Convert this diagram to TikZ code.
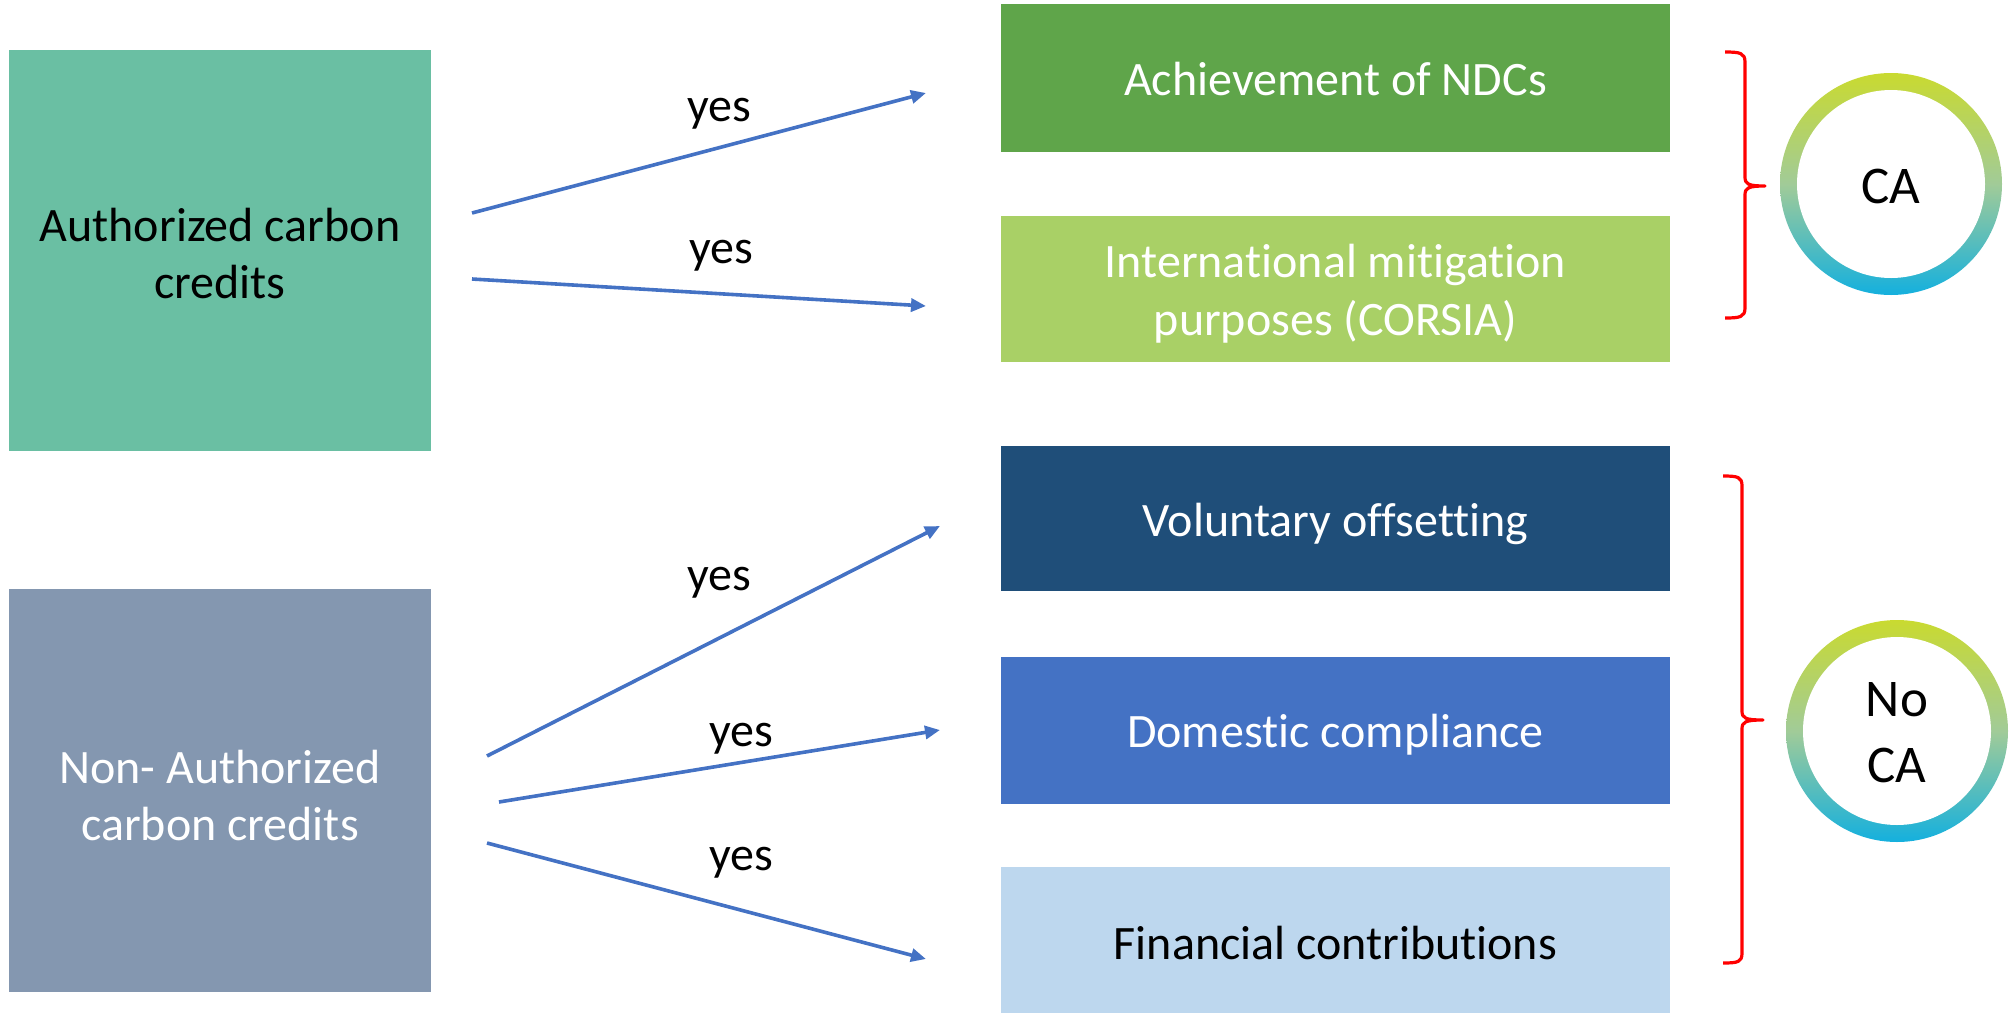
\documentclass[tikz,border=0pt]{standalone}
\usepackage{fontspec}
\setmainfont{Carlito}[Ligatures={NoCommon}]
\usetikzlibrary{arrows.meta}
\definecolor{authgreen}{HTML}{6ABFA3}
\definecolor{nonauth}{HTML}{8497B0}
\definecolor{ndcgreen}{HTML}{5FA54A}
\definecolor{intlgreen}{HTML}{A9D066}
\definecolor{voldark}{HTML}{1F4E79}
\definecolor{domblue}{HTML}{4472C4}
\definecolor{finlight}{HTML}{BDD7EE}
\definecolor{arrowblue}{HTML}{4472C4}
\definecolor{bracered}{HTML}{FF0000}
\definecolor{ringtop}{HTML}{C9DA30}
\definecolor{ringmid}{HTML}{A1CB98}
\definecolor{ringbot}{HTML}{14B0DE}
\tikzset{
  leftbox/.style={rectangle, inner sep=0pt, minimum width=211pt},
  rightbox/.style={rectangle, inner sep=0pt, minimum width=334.5pt},
  lefttext/.style={inner sep=0pt, align=center, font=\fontsize{24pt}{28.5pt}\selectfont},
  righttext/.style={inner sep=0pt, align=center, font=\fontsize{24pt}{29pt}\selectfont},
  yeslabel/.style={inner sep=0pt, font=\fontsize{24pt}{28pt}\selectfont},
  flow/.style={draw=arrowblue, line width=1.8pt, -{Triangle[length=7.5pt,width=6.5pt]}},
  bracestyle/.style={draw=bracered, line width=1.6pt, line join=round},
  ring/.style={circle, inner sep=0pt, minimum size=111pt, top color=ringtop, bottom color=ringbot, middle color=ringmid},
  ringin/.style={circle, inner sep=0pt, fill=white, minimum size=94pt},
  ringtext/.style={inner sep=0pt, align=center, font=\fontsize{26.5pt}{33pt}\selectfont}
}
\begin{document}
\begin{tikzpicture}[x=0.5pt,y=-0.5pt]
\useasboundingbox (0,0) rectangle (2015,1013);
% left boxes
\node[leftbox, fill=authgreen, minimum height=200.5pt] (auth) at (220,250.5) {};
\node[lefttext, text=black] (autht) at ([yshift=-1.5pt]auth.center) {Authorized carbon\\credits};
\node[leftbox, fill=nonauth, minimum height=201.5pt] (nonauth) at (220,790.5) {};
\node[lefttext, text=white] (nonautht) at ([yshift=-2.5pt]nonauth.center) {Non- Authorized\\carbon credits};
% right boxes
\node[rightbox, fill=ndcgreen, minimum height=74pt] (ndc) at (1335.5,78) {};
\node[righttext, text=white] (ndct) at ([yshift=-0.5pt]ndc.center) {Achievement of NDCs};
\node[rightbox, fill=intlgreen, minimum height=73pt] (intl) at (1335.5,289) {};
\node[righttext, text=white] (intlt) at ([yshift=-2.5pt]intl.center) {International mitigation\\purposes (CORSIA)};
\node[rightbox, fill=voldark, minimum height=72.5pt] (vol) at (1335.5,518.5) {};
\node[righttext, text=white] (volt) at ([yshift=-2.5pt]vol.center) {Voluntary offsetting};
\node[rightbox, fill=domblue, minimum height=73.5pt] (dom) at (1335.5,730.5) {};
\node[righttext, text=white] (domt) at ([yshift=-2pt]dom.center) {Domestic compliance};
\node[rightbox, fill=finlight, minimum height=73pt] (fin) at (1335.5,940) {};
\node[righttext, text=black] (fint) at ([yshift=-1.5pt]fin.center) {Financial contributions};
% arrow end points
\coordinate (a1s) at (472,213);
\coordinate (a1e) at (926,93);
\coordinate (a2s) at (472,279);
\coordinate (a2e) at (926,306);
\coordinate (b1s) at (487,756);
\coordinate (b1e) at (940,526);
\coordinate (b2s) at (499,802);
\coordinate (b2e) at (940,730);
\coordinate (b3s) at (487,843);
\coordinate (b3e) at (926,959);
\draw[flow] (a1s) -- (a1e);
\draw[flow] (a2s) -- (a2e);
\draw[flow] (b1s) -- (b1e);
\draw[flow] (b2s) -- (b2e);
\draw[flow] (b3s) -- (b3e);
% yes labels
\node[yeslabel] (y1) at (719,114) {yes};
\node[yeslabel] (y2) at (721,256) {yes};
\node[yeslabel] (y3) at (719,583) {yes};
\node[yeslabel] (y4) at (741,739) {yes};
\node[yeslabel] (y5) at (741,863) {yes};
% braces
\draw[bracestyle] (1725,52) .. controls (1740,52) and (1745,53) .. (1745,62) -- (1745,177)
  .. controls (1745,184) and (1748,186) .. (1765,186)
  .. controls (1748,186) and (1745,188) .. (1745,195) -- (1745,308)
  .. controls (1745,317) and (1740,318) .. (1725,318);
\draw[bracestyle] (1723,476) .. controls (1738,476) and (1742,477) .. (1742,486) -- (1742,711)
  .. controls (1742,718) and (1745,720) .. (1763,720)
  .. controls (1745,720) and (1742,722) .. (1742,729) -- (1742,953)
  .. controls (1742,962) and (1738,963) .. (1723,963);
% circles
\node[ring] (caring) at (1891,184) {};
\node[ringin] (cain) at (caring) {};
\node[ringtext] (ca) at ([yshift=-1pt]caring.center) {CA};
\node[ring] (nocaring) at (1897,731) {};
\node[ringin] (nocain) at (nocaring) {};
\node[ringtext] (noca) at ([yshift=-1pt]nocaring.center) {No\\CA};
\end{tikzpicture}
\end{document}
